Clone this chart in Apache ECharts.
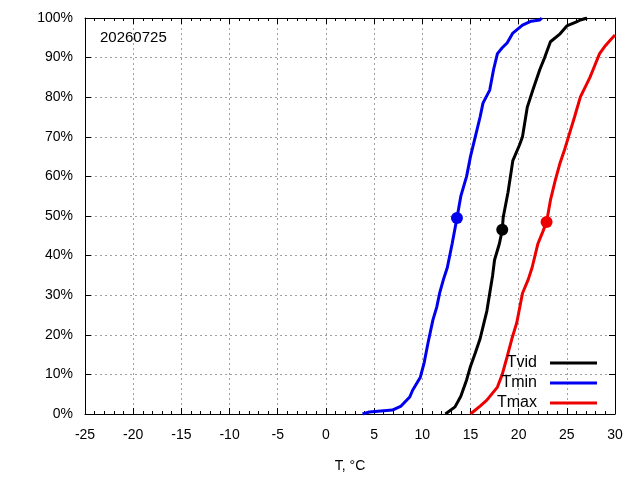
<!DOCTYPE html>
<html>
<head>
<meta charset="utf-8">
<script src="https://cdn.jsdelivr.net/npm/echarts@6/dist/echarts.min.js"></script>
<style>
  html, body { margin: 0; padding: 0; background: #fff; }
  #main { width: 640px; height: 480px; }
</style>
</head>
<body>
<div id="main"></div>
<script>
// CDF curves: temperature (°C) and cumulative percent
var tvidT = [12.4, 12.6, 13.4, 14.0, 14.6, 15.0, 15.5, 16.0, 16.3, 16.7, 17.0, 17.3, 17.5, 18.0, 18.3, 18.4, 18.9, 19.4, 20.1, 20.4, 20.9, 21.5, 22.2, 22.7, 23.3, 24.3, 25.0, 26.0, 26.4, 27.1];
var tvidP = [0, 0.5, 1.8, 4.5, 8.6, 12, 15.4, 19, 22, 26, 30.5, 35, 38.9, 43, 46.5, 49.7, 56, 64, 68, 70, 77.5, 82, 87, 90, 94, 96, 98, 99, 99.5, 100];

var tminT = [3.8, 4.5, 6.9, 7.8, 8.7, 9.0, 9.8, 10.2, 10.6, 11.1, 11.5, 11.8, 12.2, 12.6, 13.1, 13.6, 14.0, 14.6, 15.0, 15.5, 16.0, 16.3, 17.0, 17.4, 17.8, 18.3, 18.8, 19.4, 20.4, 21.3, 22.2, 22.4];
var tminP = [0, 0.5, 1.0, 2.0, 4.3, 6.0, 9.3, 13, 18, 23.7, 27, 30.5, 34, 37, 43, 49.5, 55, 60, 65, 70, 75, 78.5, 81.8, 87, 91, 92.5, 93.7, 96.2, 98.2, 99.2, 99.5, 100];

var tmaxT = [15.0, 15.2, 16.0, 16.7, 17.8, 18.3, 18.8, 19.3, 19.8, 20.4, 21.0, 21.4, 22.0, 22.5, 22.9, 23.3, 23.8, 24.3, 24.8, 25.3, 25.8, 26.4, 27.4, 27.9, 28.4, 29.0, 29.5, 30.0];
var tmaxP = [0, 0.5, 2, 3.5, 6.8, 10, 14.4, 19, 23, 30.5, 34, 37, 43, 46, 48.5, 54, 59, 63.4, 67, 71, 75, 80, 85, 88, 91, 93, 94.4, 95.7];

// median markers
var seriesNames = ['Tvid', 'Tmin', 'Tmax'];
var seriesColors = ['#000000', '#0000ee', '#ee0000'];
var medianT = [18.3, 13.6, 22.9];
var medianP = [46.5, 49.5, 48.5];

var dateLabel = '20260725';
var xName = 'T, °C';

function zip(a, b) {
  var out = [];
  for (var i = 0; i < a.length; i++) out.push([a[i], b[i]]);
  return out;
}

var curves = [zip(tvidT, tvidP), zip(tminT, tminP), zip(tmaxT, tmaxP)];

var font = 'Liberation Sans, Arial, sans-serif';

var series = [];
curves.forEach(function (d, i) {
  series.push({
    name: seriesNames[i],
    type: 'line',
    data: d,
    showSymbol: false,
    clip: true,
    lineStyle: { color: seriesColors[i], width: 3 },
    itemStyle: { color: seriesColors[i] },
    emphasis: { disabled: true },
    z: 3
  });
  series.push({
    type: 'scatter',
    data: [[medianT[i], medianP[i]]],
    symbolSize: 12,
    itemStyle: { color: seriesColors[i], opacity: 1 },
    emphasis: { disabled: true },
    z: 4
  });
});

var chart = echarts.init(document.getElementById('main'));
chart.setOption({
  animation: false,
  backgroundColor: '#fff',
  textStyle: { fontFamily: font },
  title: {
    text: dateLabel,
    left: 95,
    top: 25,
    textStyle: { fontFamily: font, fontSize: 15, fontWeight: 'normal', color: '#000' }
  },
  legend: {
    data: seriesNames,
    orient: 'vertical',
    right: 43,
    top: 355,
    padding: 0,
    align: 'right',
    icon: 'rect',
    itemWidth: 47,
    itemHeight: 3,
    itemGap: 4,
    textStyle: { fontFamily: font, fontSize: 16, color: '#000', padding: [0, 8, 0, 0] }
  },
  grid: { left: 85, right: 25, top: 18, bottom: 66 },
  xAxis: [{
    type: 'value',
    min: -25, max: 30, interval: 5,
    name: xName,
    nameLocation: 'middle',
    nameGap: 45,
    nameTextStyle: { fontFamily: font, fontSize: 14, color: '#000' },
    axisLine: { onZero: false, lineStyle: { color: '#000', width: 1 } },
    axisTick: { inside: true, length: 6, lineStyle: { color: '#000' } },
    minorTick: { show: true, splitNumber: 5, length: 3, lineStyle: { color: '#000' } },
    axisLabel: { fontFamily: font, fontSize: 14, color: '#000', margin: 14 },
    splitLine: { show: true, lineStyle: { color: '#a0a0a0', type: [2, 3], width: 1 } }
  }, {
    type: 'value',
    position: 'top',
    min: -25, max: 30, interval: 5,
    axisLine: { onZero: false, lineStyle: { color: '#000', width: 1 } },
    axisTick: { inside: true, length: 6, lineStyle: { color: '#000' } },
    minorTick: { show: true, splitNumber: 5, length: 3, lineStyle: { color: '#000' } },
    axisLabel: { show: false },
    splitLine: { show: false }
  }],
  yAxis: [{
    type: 'value',
    min: 0, max: 100, interval: 10,
    axisLine: { show: true, onZero: false, lineStyle: { color: '#000', width: 1 } },
    axisTick: { show: true, inside: true, length: 6, lineStyle: { color: '#000' } },
    axisLabel: { fontFamily: font, fontSize: 14, color: '#000', margin: 12, formatter: '{value}%' },
    splitLine: { show: true, lineStyle: { color: '#a0a0a0', type: [2, 3], width: 1 } }
  }, {
    type: 'value',
    position: 'right',
    min: 0, max: 100, interval: 10,
    axisLine: { show: true, onZero: false, lineStyle: { color: '#000', width: 1 } },
    axisTick: { show: true, inside: true, length: 6, lineStyle: { color: '#000' } },
    axisLabel: { show: false },
    splitLine: { show: false }
  }],
  series: series
});
</script>
</body>
</html>
